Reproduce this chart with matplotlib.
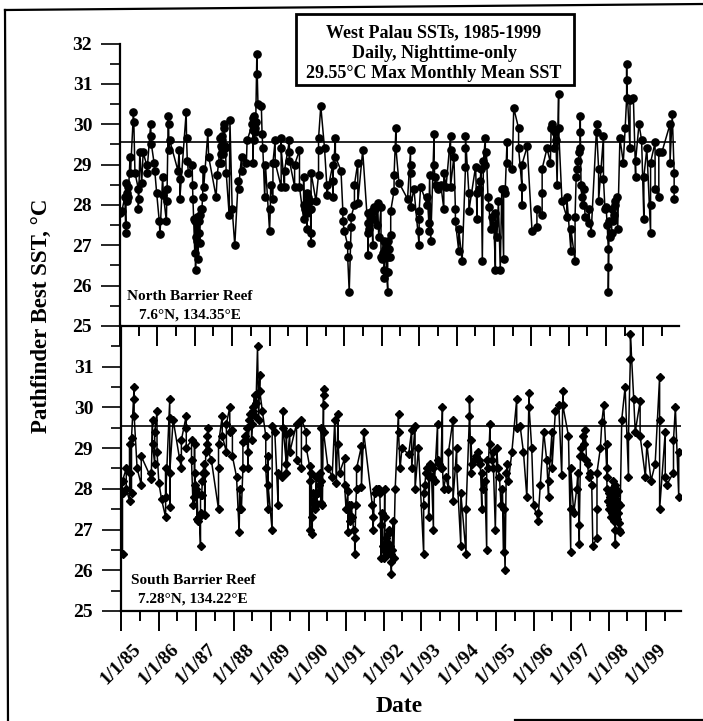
import matplotlib
matplotlib.use("Agg")
import matplotlib.pyplot as plt
from matplotlib.lines import Line2D
from matplotlib.patches import Rectangle

plt.rcParams['font.family'] = ['Liberation Serif', 'DejaVu Serif']
plt.rcParams['font.weight'] = 'bold'

# values, date as decimal year (85 = 1/1/85)
north_date = [
    85.00, 85.05, 85.13, 85.15, 85.16, 85.16, 85.22, 85.27, 85.28, 85.36, 85.37, 85.40, 85.49, 85.49, 85.50, 85.53,
    85.58, 85.62, 85.71, 85.72, 85.82, 85.83, 85.84, 85.91, 85.93, 85.98, 86.05, 86.07, 86.14, 86.16, 86.24, 86.25,
    86.26, 86.29, 86.30, 86.31, 86.33, 86.55, 86.58, 86.60, 86.60, 86.77, 86.78, 86.80, 86.83, 86.93, 86.94, 86.95,
    86.97, 87.00, 87.02, 87.09, 87.10, 87.11, 87.13, 87.19, 87.21, 87.23, 87.24, 87.35, 87.37, 87.57, 87.60, 87.64,
    87.68, 87.70, 87.72, 87.77, 87.79, 87.80, 87.84, 87.92, 87.94, 88.00, 88.07, 88.16, 88.17, 88.25, 88.27, 88.38,
    88.40, 88.56, 88.58, 88.60, 88.66, 88.67, 88.69, 88.78, 88.80, 88.82, 88.87, 88.89, 89.00, 89.02, 89.03, 89.09,
    89.09, 89.15, 89.15, 89.31, 89.31, 89.31, 89.40, 89.40, 89.53, 89.53, 89.53, 89.67, 89.67, 89.80, 89.80, 89.91,
    89.91, 90.00, 90.00, 90.00, 90.11, 90.11, 90.11, 90.11, 90.24, 90.31, 90.31, 90.31, 90.37, 90.47, 90.53, 90.53,
    90.69, 90.69, 90.69, 90.76, 90.76, 90.91, 90.96, 90.96, 91.00, 91.09, 91.09, 91.13, 91.18, 91.18, 91.27, 91.27,
    91.36, 91.36, 91.49, 91.64, 91.64, 91.64, 91.76, 91.76, 91.89, 91.98, 91.98, 92.07, 92.07, 92.16, 92.16, 92.16,
    92.24, 92.24, 92.33, 92.33, 92.38, 92.38, 92.46, 92.69, 92.77, 92.77, 92.77, 92.77, 92.86, 93.00, 93.00, 93.00,
    93.00, 93.04, 93.22, 93.22, 93.26, 93.26, 93.31, 93.40, 93.40, 93.44, 93.66, 93.66, 93.84, 93.84, 93.84, 93.93,
    93.97, 93.97, 94.06, 94.06, 94.15, 94.24, 94.24, 94.24, 94.33, 94.33, 94.51, 94.55, 94.55, 94.69, 94.77, 94.77,
    94.91, 95.04, 95.04, 95.17, 95.26, 95.26, 95.35, 95.35, 95.49, 95.53, 95.66, 95.66, 95.75, 95.75, 95.75, 95.89,
    96.02, 96.15, 96.15, 96.29, 96.29, 96.29, 96.42, 96.51, 96.60, 96.60, 96.69, 96.73, 96.73, 96.82, 96.95, 96.95,
    97.06, 97.06, 97.17, 97.17, 97.31, 97.31, 97.31, 97.40, 97.44, 97.53, 97.53, 97.60, 97.75, 97.75, 97.80, 97.80,
    97.93, 97.93, 97.97, 98.06, 98.06, 98.06, 98.15, 98.15, 98.29, 98.37, 98.46, 98.51, 98.55, 98.55, 98.55, 98.64,
    98.64, 98.73, 98.79, 98.79, 98.88, 98.95, 99.01, 99.01, 99.09, 99.19, 99.19, 99.19, 99.31, 99.31, 99.41, 99.41,
    99.49, 99.71, 99.71, 99.77, 99.82, 99.82, 99.82,
    # dense clusters
    85.18, 85.20, 85.21, 87.01, 87.04, 87.06, 87.07, 87.15, 87.17, 87.69, 87.71, 87.73, 87.74, 87.75, 87.82,
    88.54, 88.55, 88.57, 88.59, 88.61, 88.63, 89.92, 89.95, 89.97, 90.02, 90.04, 90.07, 90.09,
    91.62, 91.67, 91.70, 91.73, 91.79, 91.83, 91.86, 91.92, 92.00, 92.03, 92.05, 92.09, 92.11, 92.13, 92.18, 92.20, 92.22,
    93.28, 93.42, 93.50, 93.58, 93.72,
    94.60, 94.63, 94.66, 94.72, 94.80, 94.84, 94.87, 94.95, 95.00, 95.08, 95.12, 95.21, 95.30,
    96.53, 96.56, 96.63, 96.66, 97.20, 97.23, 97.26, 97.28, 97.33, 97.35, 97.37,
    98.00, 98.03, 98.08, 98.10, 98.12, 98.18, 98.20, 98.23, 98.25, 98.31,
]
north_sst = [
    27.8, 27.85, 28.2, 27.5, 27.3, 28.55, 28.2, 29.2, 28.8, 30.3, 30.05, 28.8, 28.4, 27.9, 28.15, 29.3,
    28.55, 29.3, 29.0, 28.8, 30.0, 29.7, 29.5, 29.05, 28.85, 28.3, 27.6, 27.27, 28.7, 28.25, 27.6, 28.1,
    28.4, 30.2, 30.0, 29.35, 29.6, 28.85, 29.35, 28.65, 28.15, 30.3, 29.65, 29.1, 28.8, 29.0, 28.5, 28.15,
    27.65, 26.8, 26.4, 26.65, 27.3, 27.6, 27.05, 27.9, 28.2, 28.9, 28.45, 29.8, 29.2, 28.2, 28.75, 29.05,
    29.65, 29.05, 29.4, 30.0, 29.9, 29.4, 28.8, 27.75, 30.1, 27.9, 27.0, 28.6, 28.4, 29.2, 28.85, 29.05,
    29.6, 29.05, 29.6, 29.9, 31.75, 31.25, 30.5, 30.45, 29.75, 29.4, 28.2, 29.0, 27.35, 27.9, 28.5, 28.15,
    29.05, 29.6, 29.05, 28.45, 29.65, 29.4, 28.45, 28.85, 29.6, 29.3, 29.1, 28.45, 29.0, 29.35, 28.45, 27.65,
    28.7, 27.4, 28.3, 27.8, 27.05, 27.3, 27.9, 28.8, 28.1, 28.75, 29.35, 29.65, 30.45, 29.4, 28.5, 28.25,
    29.0, 28.2, 28.6, 29.65, 29.2, 28.85, 27.85, 27.6, 27.35, 27.0, 26.7, 25.85, 27.45, 27.7, 28.0, 28.5,
    29.05, 28.05, 29.35, 26.75, 27.3, 27.8, 27.0, 27.65, 28.05, 27.95, 26.7, 26.2, 26.4, 25.85, 26.35, 26.7,
    27.25, 27.85, 28.35, 28.75, 29.9, 29.4, 28.55, 28.15, 29.35, 29.0, 28.8, 27.95, 28.4, 27.0, 27.35, 27.65,
    27.85, 28.45, 28.0, 28.2, 27.55, 27.35, 27.1, 29.75, 29.0, 28.5, 27.9, 28.8, 29.7, 29.35, 28.45, 29.2,
    27.9, 27.6, 26.85, 27.4, 26.6, 28.95, 29.4, 29.7, 28.3, 27.85, 28.95, 27.65, 28.3, 26.6, 29.65, 29.0,
    27.4, 26.4, 27.8, 26.4, 26.65, 28.4, 29.55, 29.05, 28.9, 30.4, 29.9, 29.4, 28.45, 28.0, 29.0, 29.45,
    27.35, 27.45, 27.9, 27.75, 28.3, 28.9, 29.4, 29.05, 29.85, 29.4, 28.5, 30.75, 29.9, 28.1, 27.7, 28.2,
    26.85, 27.4, 26.6, 27.7, 29.4, 30.2, 29.8, 28.4, 27.7, 27.55, 27.9, 27.3, 30.0, 29.8, 28.9, 28.1,
    29.7, 28.65, 27.9, 26.9, 26.45, 25.85, 27.3, 27.9, 28.2, 29.65, 29.05, 29.9, 30.65, 31.5, 31.1, 29.4,
    30.6, 30.65, 28.7, 29.1, 30.0, 29.6, 27.65, 28.7, 29.4, 27.3, 28.0, 29.05, 29.55, 28.4, 28.2, 29.3,
    29.3, 30.0, 29.05, 30.25, 28.8, 28.4, 28.15,
    # dense clusters
    28.1, 28.3, 28.45, 27.6, 27.2, 27.7, 27.1, 27.75, 27.9, 29.25, 29.45, 29.6, 29.7, 29.25, 29.45,
    30.0, 30.15, 29.85, 30.2, 29.8, 30.05, 28.0, 27.9, 28.05, 27.85, 28.2, 27.9, 28.1,
    27.55, 27.4, 27.7, 27.85, 27.95, 27.9, 27.5, 27.2, 26.65, 26.8, 27.1, 26.9, 27.0, 26.35, 27.1, 26.9, 26.7,
    28.75, 28.7, 28.4, 28.5, 28.45,
    28.4, 28.6, 28.9, 29.1, 29.3, 28.2, 27.95, 27.7, 27.5, 27.2, 28.1, 28.4, 28.3,
    29.9, 30.0, 29.8, 29.6, 28.7, 28.9, 29.1, 29.3, 28.5, 28.2, 28.0,
    27.95, 27.5, 27.6, 27.2, 27.3, 27.6, 27.75, 28.0, 28.1, 27.4,
]
south_date = [
    85.04, 85.04, 85.04, 85.14, 85.14, 85.23, 85.23, 85.23, 85.28, 85.28, 85.35, 85.35, 85.35, 85.43, 85.54, 85.54,
    85.81, 85.81, 85.84, 85.84, 85.90, 85.90, 85.96, 85.96, 86.01, 86.08, 86.19, 86.19, 86.19, 86.30, 86.30, 86.30,
    86.30, 86.39, 86.56, 86.61, 86.61, 86.74, 86.74, 86.74, 86.88, 86.88, 86.96, 86.96, 86.96, 87.03, 87.03, 87.12,
    87.12, 87.12, 87.23, 87.23, 87.32, 87.32, 87.41, 87.60, 87.60, 87.60, 87.70, 87.70, 87.81, 87.81, 87.90, 87.90,
    87.97, 87.97, 88.08, 88.15, 88.16, 88.16, 88.21, 88.25, 88.25, 88.39, 88.39, 88.48, 88.48, 88.56, 88.56, 88.64,
    88.70, 88.70, 88.77, 88.86, 88.86, 88.92, 88.92, 88.92, 89.03, 89.03, 89.10, 89.19, 89.19, 89.28, 89.32, 89.32,
    89.41, 89.41, 89.41, 89.50, 89.50, 89.68, 89.68, 89.81, 89.81, 89.94, 89.94, 90.03, 90.03, 90.10, 90.10, 90.21,
    90.21, 90.34, 90.34, 90.34, 90.40, 90.40, 90.40, 90.40, 90.52, 90.63, 90.70, 90.74, 90.79, 90.79, 90.83, 90.96,
    90.96, 91.05, 91.05, 91.14, 91.23, 91.23, 91.28, 91.28, 91.41, 91.41, 91.47, 91.72, 91.72, 91.85, 91.94, 91.94,
    92.03, 92.03, 92.03, 92.12, 92.12, 92.21, 92.21, 92.25, 92.31, 92.40, 92.40, 92.44, 92.49, 92.67, 92.75, 92.75,
    92.84, 92.84, 92.93, 93.07, 93.07, 93.07, 93.20, 93.20, 93.33, 93.33, 93.44, 93.44, 93.57, 93.57, 93.60, 93.73,
    93.73, 93.85, 93.85, 93.95, 93.95, 94.06, 94.06, 94.20, 94.20, 94.29, 94.29, 94.33, 94.33, 94.62, 94.62, 94.75,
    94.75, 94.84, 94.84, 94.93, 94.98, 95.02, 95.20, 95.20, 95.24, 95.33, 95.42, 95.55, 95.55, 95.64, 95.73, 95.82,
    95.88, 95.88, 95.95, 96.00, 96.13, 96.13, 96.18, 96.27, 96.35, 96.40, 96.40, 96.49, 96.49, 96.58, 96.67, 96.75,
    96.78, 96.78, 96.93, 96.99, 96.99, 96.99, 97.07, 97.15, 97.22, 97.22, 97.29, 97.38, 97.51, 97.58, 97.69, 97.69,
    97.69, 97.78, 97.82, 97.87, 97.95, 97.95, 97.95, 98.13, 98.13, 98.18, 98.18, 98.18, 98.27, 98.31, 98.31, 98.35,
    98.44, 98.53, 98.53, 98.58, 98.58, 98.67, 98.71, 98.84, 98.84, 98.98, 99.02, 99.13, 99.24, 99.36, 99.36, 99.36,
    99.51, 99.51, 99.55, 99.73, 99.73, 99.78, 99.87, 99.87,
    # dense clusters
    86.92, 86.94, 87.00, 87.05, 87.07, 87.09, 87.15, 87.17, 87.19, 87.21, 87.26, 87.28, 87.30,
    88.30, 88.33, 88.36, 88.42, 88.45, 88.51, 88.53, 88.60, 88.67,
    90.05, 90.07, 90.13, 90.15, 90.18, 90.24, 90.27, 90.30, 90.37,
    91.00, 91.08, 91.11, 91.17, 91.20, 91.26,
    91.70, 91.76, 91.80, 91.88, 91.90, 91.96, 91.98,
    92.00, 92.02, 92.05, 92.07, 92.09, 92.14, 92.17, 92.19, 92.23, 92.27,
    93.10, 93.13, 93.16, 93.24, 93.28, 93.36, 93.48, 93.53, 93.66,
    94.36, 94.41, 94.46, 94.51, 94.55, 94.58, 94.66, 94.70, 94.79, 94.88, 94.91, 95.05, 95.09, 95.13, 95.17, 95.27, 95.30,
    97.18, 97.25, 97.27, 97.32, 97.35, 97.41, 97.44, 97.47, 97.55,
    97.96, 97.98, 98.00, 98.02, 98.03, 98.05, 98.06, 98.08, 98.09, 98.10, 98.11, 98.12, 98.14, 98.15, 98.16, 98.17,
    98.19, 98.20, 98.21, 98.22, 98.23, 98.24, 98.25, 98.26, 98.29,
]
south_sst = [
    26.4, 27.9, 28.2, 28.5, 28.0, 27.7, 29.1, 28.4, 27.9, 29.25, 30.5, 30.2, 29.8, 28.5, 28.1, 28.8,
    28.25, 28.4, 29.7, 29.1, 28.6, 29.4, 29.9, 28.9, 28.15, 27.75, 27.3, 28.5, 27.8, 30.2, 29.75, 27.55,
    28.4, 29.7, 28.75, 28.5, 29.2, 29.8, 29.5, 29.0, 29.2, 28.7, 28.1, 29.1, 28.4, 27.25, 27.9, 26.6,
    27.4, 27.85, 28.4, 27.35, 29.5, 28.95, 28.7, 27.5, 28.5, 29.1, 29.8, 29.3, 28.9, 29.6, 30.0, 29.4,
    29.45, 28.8, 28.3, 26.95, 27.5, 28.0, 27.5, 28.5, 29.15, 28.5, 28.9, 29.6, 29.2, 30.3, 29.8, 31.5,
    30.8, 30.4, 29.9, 29.3, 28.5, 27.5, 28.8, 28.1, 26.98, 29.55, 29.4, 27.6, 28.4, 28.3, 29.9, 29.5,
    28.6, 29.35, 28.4, 29.4, 28.9, 29.6, 28.7, 28.5, 29.7, 29.4, 29.0, 28.55, 27.0, 26.9, 27.3, 28.3,
    27.6, 27.65, 28.2, 29.5, 30.45, 30.3, 30.05, 29.4, 28.5, 28.3, 29.7, 28.15, 29.85, 29.1, 28.4, 28.75,
    28.1, 27.95, 26.95, 27.6, 26.8, 26.4, 28.0, 28.5, 29.05, 28.05, 29.4, 27.3, 26.98, 28.0, 26.3, 27.1,
    28.0, 27.3, 26.65, 26.4, 26.9, 25.9, 26.2, 27.2, 28.0, 29.85, 29.4, 28.5, 29.0, 28.85, 29.45, 28.5,
    29.55, 28.0, 29.0, 26.4, 27.6, 27.9, 28.3, 27.3, 27.0, 28.5, 29.6, 28.7, 30.0, 28.5, 28.0, 28.0,
    28.9, 29.7, 27.7, 29.0, 28.5, 26.6, 27.9, 26.4, 27.5, 29.8, 30.2, 28.4, 29.2, 27.5, 28.4, 26.5,
    28.7, 29.6, 29.1, 28.5, 27.0, 29.0, 26.45, 27.5, 26.0, 28.2, 28.9, 30.2, 29.5, 29.55, 28.9, 27.8,
    30.35, 30.0, 29.0, 27.6, 27.2, 27.4, 28.1, 29.4, 28.7, 27.8, 28.2, 29.4, 28.5, 29.9, 30.05, 28.35,
    30.4, 30.05, 29.3, 26.45, 27.5, 28.5, 27.4, 28.0, 26.65, 27.1, 28.8, 29.45, 28.4, 26.6, 26.8, 27.5,
    28.4, 29.0, 29.65, 30.05, 28.5, 29.1, 28.3, 28.2, 27.8, 26.65, 27.0, 27.5, 27.0, 26.95, 27.6, 29.7,
    30.5, 28.3, 29.3, 31.2, 31.8, 30.2, 29.4, 30.15, 29.3, 28.3, 29.1, 28.2, 28.6, 30.75, 29.7, 27.5,
    29.4, 28.3, 28.1, 28.4, 29.2, 30.0, 27.8, 28.9,
    # dense clusters
    27.6, 27.8, 28.0, 27.2, 27.3, 27.3, 27.85, 28.2, 28.4, 28.6, 28.9, 29.1, 29.3,
    29.3, 29.2, 29.5, 29.7, 29.85, 29.9, 30.0, 30.1, 29.7,
    28.2, 28.4, 27.9, 27.7, 27.5, 27.9, 28.1, 28.4, 27.6,
    27.5, 27.6, 27.2, 27.3, 27.0, 27.6,
    27.6, 27.9, 28.0, 28.0, 27.9, 27.4, 26.6,
    26.3, 26.5, 26.6, 26.8, 26.7, 27.0, 26.6, 26.4, 26.5, 26.3,
    28.1, 28.4, 28.5, 28.6, 28.3, 28.2, 28.6, 28.5, 28.3,
    28.6, 28.7, 28.8, 28.9, 28.7, 28.6, 28.0, 28.2, 28.5, 28.7, 28.9, 28.5, 28.3, 27.6, 28.0, 28.4, 28.6,
    28.4, 28.8, 29.0, 29.3, 29.1, 28.7, 28.6, 28.3, 28.1,
    28.0, 27.7, 27.9, 27.5, 27.6, 27.8, 27.3, 27.4, 27.9, 28.0, 27.7, 27.6, 27.2, 27.3, 27.9, 28.1,
    27.75, 27.45, 27.85, 27.55, 27.25, 27.65, 27.95, 27.4, 27.15,
]
mmm_sst = 29.55
year_ticks = list(range(85, 100))
half_ticks = [y + 0.5 for y in year_ticks]
year_labels = [f"1/1/{y}" for y in year_ticks]
north_yticks = [25, 26, 27, 28, 29, 30, 31, 32]
south_yticks = [25, 26, 27, 28, 29, 30, 31]
half_yticks = [25.5, 26.5, 27.5, 28.5, 29.5, 30.5, 31.5]

W, H = 703, 721
fig = plt.figure(figsize=(W / 100, H / 100), dpi=100)


def pixel_axes(left, right, top, bottom):
    return fig.add_axes([left / W, 1 - bottom / H, (right - left) / W, (bottom - top) / H])


def style_panel(ax, yticks):
    ax.patch.set_alpha(0)
    ax.set_ylim(25, 32)
    for side in ['top', 'right']:
        ax.spines[side].set_visible(False)
    for side in ['left', 'bottom']:
        ax.spines[side].set_linewidth(1.6)
    ax.set_yticks(yticks)
    ax.set_yticks(half_yticks, minor=True)
    ax.set_xticks(year_ticks)
    ax.set_xticks(half_ticks, minor=True)
    ax.tick_params(axis='x', which='major', length=14.5, width=1.4, direction='out')
    ax.tick_params(axis='x', which='minor', length=7.5, width=1.4, direction='out')
    ax.tick_params(axis='y', which='major', length=14, width=1.2, direction='out', pad=6, labelsize=14)
    ax.tick_params(axis='y', which='minor', length=7, width=1.2, direction='out')


def by_date(dates, values):
    pairs = sorted(zip(dates, values), key=lambda p: p[0])
    return [p[0] for p in pairs], [p[1] for p in pairs]


north = pixel_axes(120, 679, 43.5, 326)
x, y = by_date(north_date, north_sst)
north.plot(x, y, '-o', color='black', lw=1.1, ms=5.2)
north.plot([85, 99.85], [mmm_sst, mmm_sst], color='black', lw=1.2)
north.set_xlim(85, 99.95)
style_panel(north, north_yticks)
north.set_xticklabels([])

south = pixel_axes(121, 681, 326, 611)
x, y = by_date(south_date, south_sst)
south.plot(x, y, '-D', color='black', lw=1.1, ms=3.9)
south.plot([85, 99.93], [mmm_sst, mmm_sst], color='black', lw=1.2)
south.set_xlim(85, 99.93)
style_panel(south, south_yticks)
south.set_xticklabels(year_labels, rotation=45, ha='center', va='top', fontsize=14)
south.tick_params(axis='x', which='major', pad=7)


def px_text(x, y, s, size, **kw):
    fig.text(x / W, 1 - y / H, s, fontsize=size, ha='center', va='center', fontweight='bold', **kw)


px_text(190, 296, "North Barrier Reef", 11)
px_text(190, 315, "7.6\u00b0N, 134.35\u00b0E", 11)
px_text(193, 580, "South Barrier Reef", 11)
px_text(193, 599, "7.28\u00b0N, 134.22\u00b0E", 11)
px_text(41, 316, "Pathfinder Best SST, \u00b0C", 16.5, rotation=90)
px_text(399, 707, "Date", 17)

# title box
fig.add_artist(Rectangle((296 / W, 1 - 84.5 / H), 277.5 / W, 70.5 / H, transform=fig.transFigure,
                         fill=False, edgecolor='black', lw=2))
px_text(434, 33, "West Palau SSTs, 1985-1999", 13)
px_text(434, 53, "Daily, Nighttime-only", 13)
px_text(434, 73, "29.55\u00b0C Max Monthly Mean SST", 13)

# edge of the scanned page
for xs, ys in [((5, 8), (10, 721)), ((5, 703), (10, 4)), ((515, 703), (720, 720))]:
    fig.add_artist(Line2D([x / W for x in xs], [1 - y / H for y in ys], color='black', lw=1.6))

fig.savefig('out.png', dpi=100)
